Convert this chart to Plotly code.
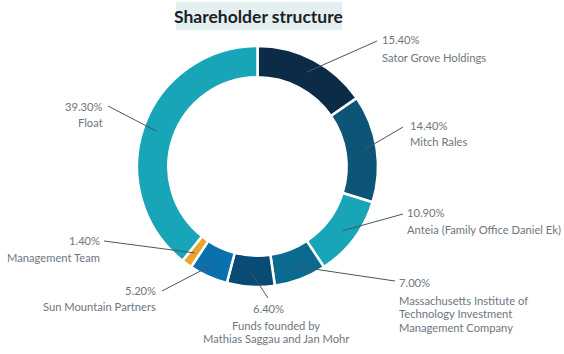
import math
import plotly.graph_objects as go

# ---- data ----
holders = ["Sator Grove Holdings", "Mitch Rales", "Anteia (Family Office Daniel Ek)",
           "Massachusetts Institute of Technology Investment Management Company",
           "Funds founded by Mathias Saggau and Jan Mohr", "Sun Mountain Partners",
           "Management Team", "Float"]
shares = [15.4, 14.4, 10.9, 7.0, 6.4, 5.2, 1.4, 39.3]
label_lines = [["Sator Grove Holdings"], ["Mitch Rales"], ["Anteia (Family Office Daniel Ek)"],
               ["Massachusetts Institute of", "Technology Investment", "Management Company"],
               ["Funds founded by", "Mathias Saggau and Jan Mohr"], ["Sun Mountain Partners"],
               ["Management Team"], ["Float"]]
colors = ["#0b2b47", "#0d5576", "#17a5b7", "#0b6a90", "#0a4b76", "#0b71ae", "#e9a62a", "#17a5b7"]

# ---- layout (pixels) ----
W, H = 564, 354
CX, CY, R = 257.5, 166.5, 120.5
HOLE = 0.74
MID_R = R * (1 + HOLE) / 2 + 2
# text anchor: (x, pct y, xanchor, name first-line y)
text_pos = [(381, 40, "left", 58), (409, 126, "left", 141), (406, 212, "left", 229),
            (398, 282, "left", 300), (268, 308, "center", 325), (157, 290, "right", 306),
            (101, 240, "right", 257), (104, 106, "right", 122)]
line_end = [(377, 41), (403, 127), (403, 214), (395, 281), (268, 298), (162, 291),
            (104, 241), (108, 106)]
name_x_shift = [0, 0, 0, 0, 8, 0, 0, 0]
FONT = dict(family="Lato", size=11.2, color="#6d7680")

def px(x):
    return x / W

def py(y):
    return 1 - y / H

fig = go.Figure(go.Pie(
    labels=holders, values=shares, sort=False, direction="clockwise", rotation=0,
    hole=HOLE, marker=dict(colors=colors, line=dict(color="white", width=2.5)),
    textinfo="none", hoverinfo="label+percent", showlegend=False,
    domain=dict(x=[px(CX - R), px(CX + R)], y=[py(CY + R), py(CY - R)]),
))

shapes = []
annotations = []
total = sum(shares)
cum = 0.0
for i, v in enumerate(shares):
    mid = (cum + v / 2) / total * 2 * math.pi
    cum += v
    sx = CX + MID_R * math.sin(mid)
    sy = CY - MID_R * math.cos(mid)
    ex, ey = line_end[i]
    shapes.append(dict(type="line", xref="paper", yref="paper",
                       x0=px(sx), y0=py(sy), x1=px(ex), y1=py(ey),
                       line=dict(color="#4b5560", width=1)))
    tx, ty, xa, ny = text_pos[i]
    annotations.append(dict(text=f"{v:.2f}%", x=px(tx), y=py(ty), xref="paper", yref="paper",
                            xanchor=xa, yanchor="middle", showarrow=False, font=FONT,
                            borderpad=0))
    for j, ln in enumerate(label_lines[i]):
        annotations.append(dict(text=ln, x=px(tx + name_x_shift[i]), y=py(ny + j * 13.8),
                                xref="paper", yref="paper", borderpad=0,
                                xanchor=xa, yanchor="middle", showarrow=False, font=FONT))

# title box
shapes.append(dict(type="rect", xref="paper", yref="paper", x0=px(176), x1=px(342),
                   y0=py(30), y1=py(2), fillcolor="#e4eff2", line=dict(width=0), layer="below"))
annotations.append(dict(text="Shareholder structure", x=px(258), y=py(16), xref="paper", yref="paper",
                        xanchor="center", yanchor="middle", showarrow=False,
                        font=dict(family="Lato", size=17.5, color="#1b1f24", weight=700)))

fig.update_layout(width=W, height=H, margin=dict(l=0, r=0, t=0, b=0),
                  paper_bgcolor="white", plot_bgcolor="white",
                  shapes=shapes, annotations=annotations)
fig.write_html("out.html")
